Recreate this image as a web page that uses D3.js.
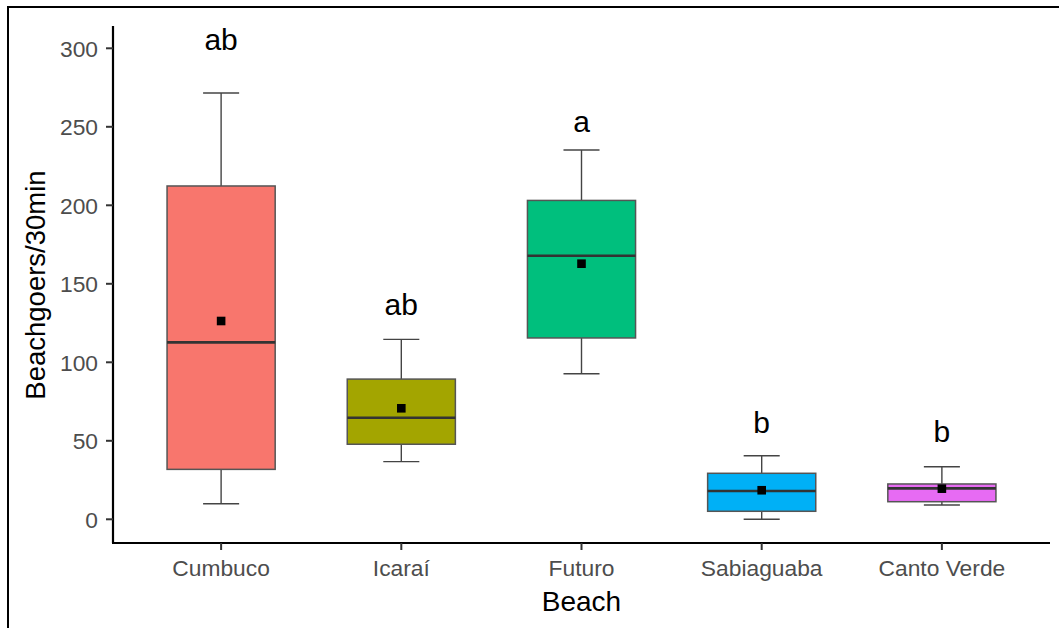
<!DOCTYPE html>
<html>
<head>
<meta charset="utf-8">
<script src="https://cdn.jsdelivr.net/npm/d3@7"></script>
<style>
  html, body { margin: 0; padding: 0; background: #fff; }
  svg { display: block; }
  text { font-family: "Liberation Sans", Arial, sans-serif; }
</style>
</head>
<body>
<svg id="chart" width="1059" height="628"></svg>
<script>
const categories = ["Cumbuco", "Icaraí", "Futuro", "Sabiaguaba", "Canto Verde"];
const whiskerLow  = [9.9, 36.7, 92.7, 0, 9.1];
const q1          = [31.8, 47.8, 115.5, 5.1, 11.2];
const medians     = [112.7, 64.7, 167.9, 18.0, 19.7];
const q3          = [212.3, 89.3, 203.1, 29.3, 22.5];
const whiskerHigh = [271.5, 114.6, 235.2, 40.5, 33.5];
const means       = [126.3, 70.7, 162.8, 18.5, 19.5];
const letters     = ["ab", "ab", "a", "b", "b"];
const letterY     = [299, 130, 246.5, 55, 49];
const colors      = ["#F8766D", "#A3A500", "#00BF7D", "#00B0F6", "#E76BF3"];
const yTicks      = [0, 50, 100, 150, 200, 250, 300];

(function () {
const svg = d3.select("#chart");
const pLeft = 113, pRight = 1050, pTop = 26, pBottom = 543;

// outer frame (left & top edges visible)
svg.append("rect").attr("x", 8).attr("y", 7).attr("width", 1100).attr("height", 700)
  .attr("fill", "none").attr("stroke", "#000").attr("stroke-width", 2);

// ggplot-style discrete axis: 0.6 units expansion on each side
const x = d3.scalePoint().domain(categories)
  .range([pLeft, pRight]).padding(0.6);
const step = x.step();

const y = d3.scaleLinear().domain([-15.1, 314.2]).range([pBottom, pTop]);

const boxW = step * 0.6, capW = step * 0.2;

const data = categories.map((c, i) => ({
  c, i, lo: whiskerLow[i], q1: q1[i], med: medians[i], q3: q3[i], hi: whiskerHigh[i],
  mean: means[i], letter: letters[i], ly: letterY[i], color: colors[i]
}));

const g = svg.append("g");
const boxes = g.selectAll("g.box").data(data).join("g").attr("class", "box");
const cx = d => x(d.c);

// whiskers
boxes.append("line").attr("x1", cx).attr("x2", cx)
  .attr("y1", d => y(d.hi)).attr("y2", d => y(d.q3))
  .attr("stroke", "#444").attr("stroke-width", 1.4);
boxes.append("line").attr("x1", cx).attr("x2", cx)
  .attr("y1", d => y(d.q1)).attr("y2", d => y(d.lo))
  .attr("stroke", "#444").attr("stroke-width", 1.4);
// caps
boxes.append("line").attr("x1", d => cx(d) - capW / 2).attr("x2", d => cx(d) + capW / 2)
  .attr("y1", d => y(d.hi)).attr("y2", d => y(d.hi))
  .attr("stroke", "#444").attr("stroke-width", 1.4);
boxes.append("line").attr("x1", d => cx(d) - capW / 2).attr("x2", d => cx(d) + capW / 2)
  .attr("y1", d => y(d.lo)).attr("y2", d => y(d.lo))
  .attr("stroke", "#444").attr("stroke-width", 1.4);
// box
boxes.append("rect").attr("x", d => cx(d) - boxW / 2).attr("width", boxW)
  .attr("y", d => y(d.q3)).attr("height", d => y(d.q1) - y(d.q3))
  .attr("fill", d => d.color).attr("stroke", "#555").attr("stroke-width", 1.5);
// median
boxes.append("line").attr("x1", d => cx(d) - boxW / 2).attr("x2", d => cx(d) + boxW / 2)
  .attr("y1", d => y(d.med)).attr("y2", d => y(d.med))
  .attr("stroke", "#333").attr("stroke-width", 2.6);
// mean
boxes.append("rect").attr("x", d => cx(d) - 4.3).attr("y", d => y(d.mean) - 4.3)
  .attr("width", 8.6).attr("height", 8.6).attr("fill", "#000");
// letters
boxes.append("text").attr("x", cx).attr("y", d => y(d.ly))
  .attr("text-anchor", "middle").attr("font-size", 30).attr("fill", "#000")
  .text(d => d.letter);

// y axis
const yAxis = svg.append("g");
yAxis.append("line").attr("x1", pLeft).attr("x2", pLeft).attr("y1", pTop).attr("y2", pBottom)
  .attr("stroke", "#000").attr("stroke-width", 2.2);
yTicks.forEach(t => {
  yAxis.append("line").attr("x1", pLeft - 7).attr("x2", pLeft).attr("y1", y(t)).attr("y2", y(t))
    .attr("stroke", "#333").attr("stroke-width", 2);
  yAxis.append("text").attr("x", 98).attr("y", y(t)).attr("dy", "0.36em")
    .attr("text-anchor", "end").attr("font-size", 22.8).attr("fill", "#4d4d4d").text(t);
});

// x axis
const xAxis = svg.append("g");
xAxis.append("line").attr("x1", pLeft - 1).attr("x2", pRight).attr("y1", pBottom).attr("y2", pBottom)
  .attr("stroke", "#000").attr("stroke-width", 2.2);
categories.forEach(c => {
  xAxis.append("line").attr("x1", x(c)).attr("x2", x(c)).attr("y1", pBottom).attr("y2", pBottom + 7)
    .attr("stroke", "#333").attr("stroke-width", 2);
  xAxis.append("text").attr("x", x(c)).attr("y", 576)
    .attr("text-anchor", "middle").attr("font-size", 22.8).attr("fill", "#4d4d4d").text(c);
});

// axis titles
svg.append("text").attr("x", (pLeft + pRight) / 2).attr("y", 611)
  .attr("text-anchor", "middle").attr("font-size", 28).attr("fill", "#000").text("Beach");
svg.append("text").attr("transform", "translate(45,285) rotate(-90)")
  .attr("text-anchor", "middle").attr("font-size", 27.5).attr("fill", "#000").text("Beachgoers/30min");
})();
</script>
</body>
</html>
